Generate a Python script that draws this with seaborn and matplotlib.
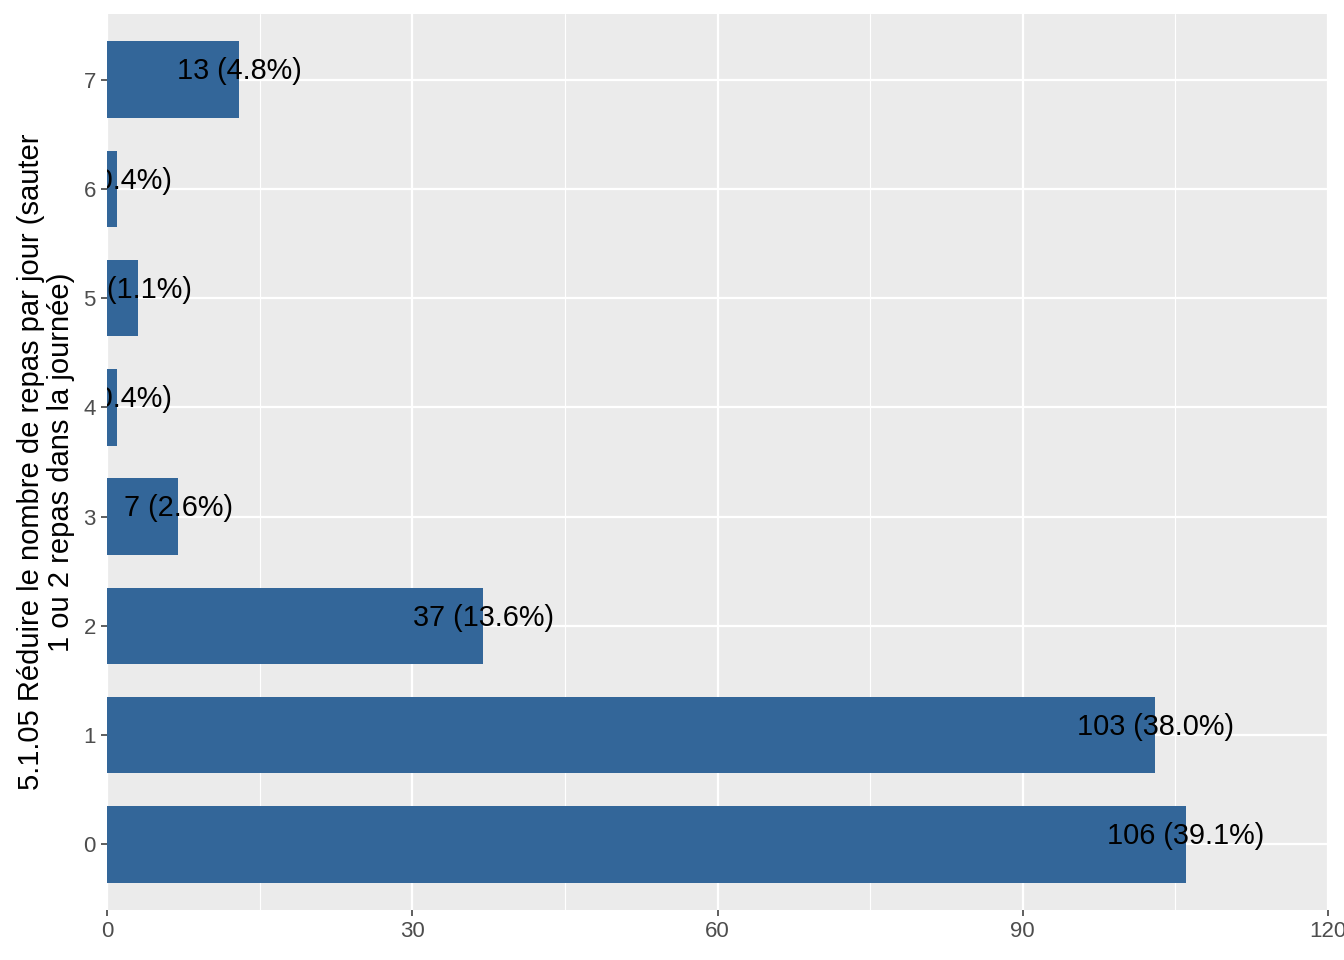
import pandas as pd
import numpy as np
import matplotlib
matplotlib.use('Agg')
import matplotlib.pyplot as plt
import seaborn as sns

# Données
categories = ['0', '1', '2', '3', '4', '5', '6', '7']
effectifs = [106, 103, 37, 7, 1, 3, 1, 13]
pourcentages = ['39.1%', '38.0%', '13.6%', '2.6%', '0.4%', '1.1%', '0.4%', '4.8%']

df = pd.DataFrame({'cat': categories, 'n': effectifs, 'pct': pourcentages})
df['label'] = df['n'].astype(str) + ' (' + df['pct'] + ')'

sns.set_theme(style='darkgrid', rc={'axes.facecolor': '#EBEBEB',
                                    'grid.color': 'white'})
plt.rcParams['font.family'] = ['Liberation Sans', 'DejaVu Sans']

fig = plt.figure(figsize=(13.44, 9.6), dpi=100)
# position du panneau (pixels du modèle)
ax = fig.add_axes([107 / 1344, 1 - 910 / 960, (1328 - 107) / 1344, (910 - 14) / 960])

ordre = categories[::-1]  # 7 en haut, 0 en bas
sns.barplot(data=df, x='n', y='cat', order=ordre, orient='h', color='#336699',
            saturation=1, width=0.7, linewidth=0, ax=ax)

# étiquettes centrées sur l'extrémité des barres
for _, r in df.iterrows():
    pos = ordre.index(r['cat'])
    ax.text(r['n'], pos - 0.075, r['label'], ha='center', va='center',
            fontsize=20.8, color='black', clip_on=True)

ax.set_xlim(0, 120)
ax.set_ylim(len(ordre) - 0.4, -0.6)
ax.set_xticks([0, 30, 60, 90, 120])
ax.set_xticks([15, 45, 75, 105], minor=True)
ax.grid(which='major', color='white', linewidth=1.6)
ax.grid(which='minor', axis='x', color='white', linewidth=0.8)
ax.set_axisbelow(True)
for s in ax.spines.values():
    s.set_visible(False)

ax.tick_params(axis='both', which='major', length=4, width=1.1, color='#333333',
               labelsize=16, labelcolor='#4D4D4D', pad=4, bottom=True, left=True)
ax.tick_params(axis='both', which='minor', length=0)
ax.set_xlabel('')
ax.set_ylabel('5.1.05 Réduire le nombre de repas par jour (sauter\n1 ou 2 repas dans la journée)',
              fontsize=21, color='black', labelpad=6, linespacing=1.1)

fig.savefig('out.png', dpi=100)
